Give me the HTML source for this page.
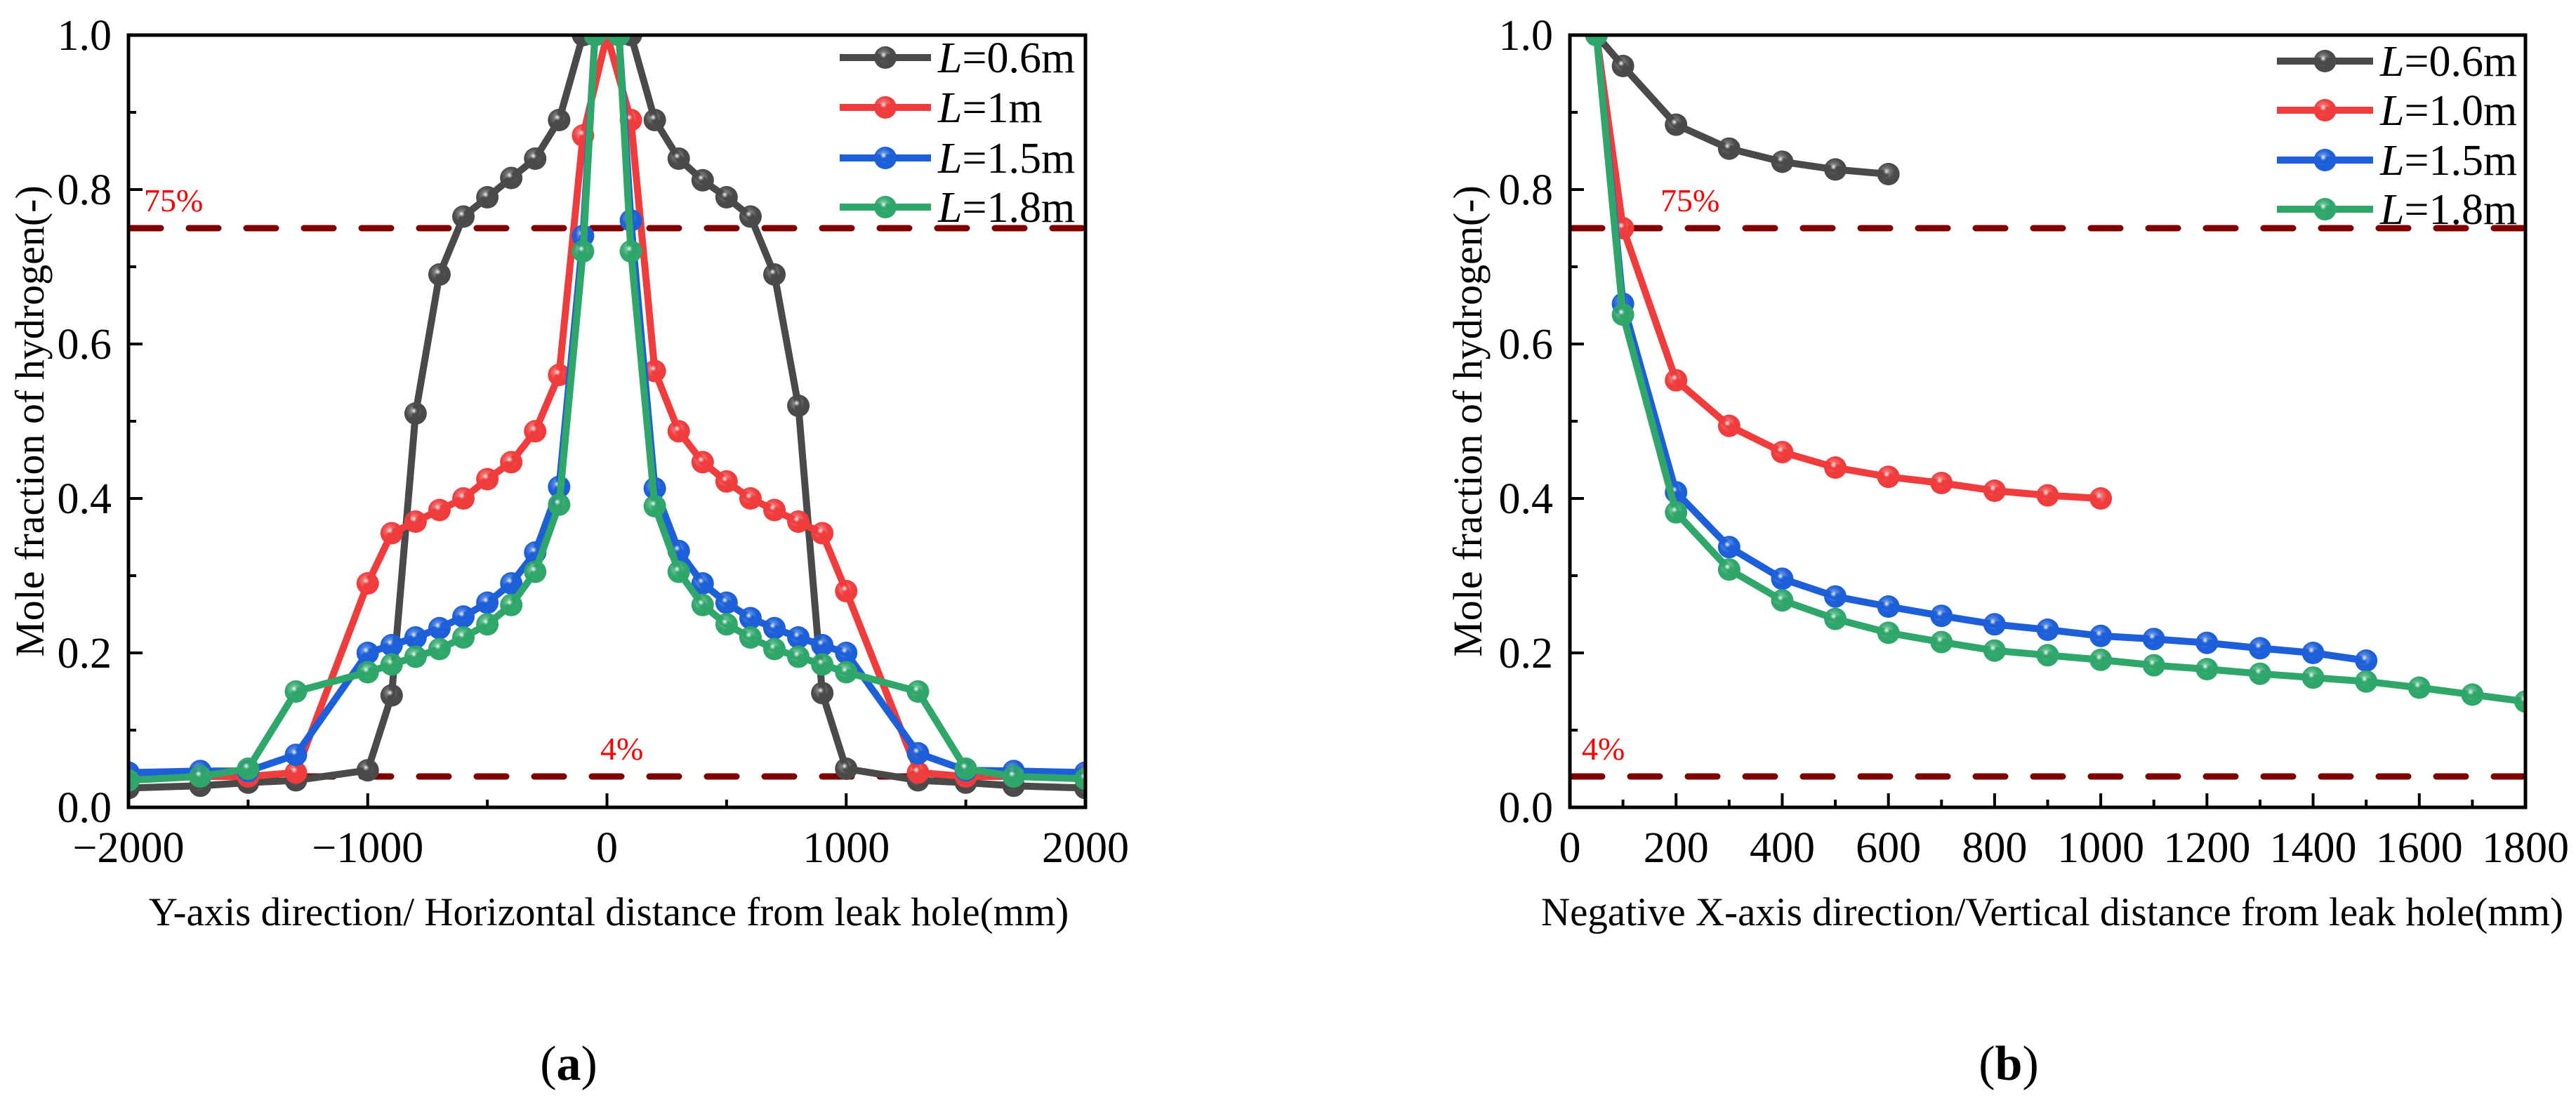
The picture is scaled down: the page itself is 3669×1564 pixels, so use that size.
<!DOCTYPE html>
<html><head><meta charset="utf-8"><style>
html,body{margin:0;padding:0;background:#fff}
svg{display:block;font-family:"Liberation Serif",serif}
</style></head><body>
<svg id="fig" width="3669" height="1564" viewBox="0 0 3669 1564" xmlns="http://www.w3.org/2000/svg">
<defs>
<clipPath id="clipA"><rect x="183" y="50" width="1363" height="1100"/></clipPath>
<clipPath id="clipB"><rect x="2236" y="50" width="1361" height="1100"/></clipPath>
</defs>
<g id="chartA"></g>
<g id="chartB"></g>
</svg>
<script>
// ---- Chart (a) data ----
const aXTicks = [-2000, -1000, 0, 1000, 2000];
const aXMinor = [-1500, -500, 500, 1500];
const yTicks = [0.0, 0.2, 0.4, 0.6, 0.8, 1.0];
const yMinor = [0.1, 0.3, 0.5, 0.7, 0.9];
const aBlackX = [-2000,-1700,-1500,-1300,-1000,-900,-800,-700,-600,-500,-400,-300,-200,-100,0,100,200,300,400,500,600,700,800,900,1000,1300,1500,1700,2000];
const aBlackY = [0.025,0.028,0.032,0.035,0.048,0.145,0.51,0.69,0.765,0.79,0.815,0.84,0.89,1.0,1.0,1.0,0.89,0.84,0.812,0.79,0.765,0.69,0.52,0.148,0.05,0.035,0.032,0.028,0.025];
const aRedX = [-2000,-1700,-1500,-1300,-1000,-900,-800,-700,-600,-500,-400,-300,-200,-100,0,100,200,300,400,500,600,700,800,900,1000,1300,1500,1700,2000];
const aRedY = [0.04,0.04,0.04,0.045,0.29,0.355,0.37,0.385,0.40,0.425,0.447,0.487,0.56,0.87,1.0,0.89,0.565,0.487,0.447,0.422,0.40,0.385,0.37,0.355,0.28,0.045,0.04,0.04,0.04];
const aBlueX = [-2000,-1700,-1500,-1300,-1000,-900,-800,-700,-600,-500,-400,-300,-200,-100,-50,50,100,200,300,400,500,600,700,800,900,1000,1300,1500,1700,2000];
const aBlueY = [0.045,0.047,0.047,0.068,0.2,0.21,0.22,0.232,0.247,0.265,0.29,0.33,0.415,0.74,1.0,1.0,0.76,0.413,0.332,0.29,0.265,0.245,0.232,0.22,0.21,0.2,0.07,0.048,0.047,0.045];
const aGreenX = [-2000,-1700,-1500,-1300,-1000,-900,-800,-700,-600,-500,-400,-300,-200,-100,-50,50,100,200,300,400,500,600,700,800,900,1000,1300,1500,1700,2000];
const aGreenY = [0.035,0.04,0.05,0.15,0.175,0.185,0.195,0.205,0.22,0.237,0.262,0.305,0.392,0.72,1.0,1.0,0.72,0.39,0.305,0.262,0.237,0.22,0.205,0.195,0.185,0.175,0.15,0.05,0.04,0.037];
const aLegend = ["=0.6m","=1m","=1.5m","=1.8m"];
// ---- Chart (b) data ----
const bXTicks = [0,200,400,600,800,1000,1200,1400,1600,1800];
const bXMinor = [100,300,500,700,900,1100,1300,1500,1700];
const bBlackX = [50,100,200,300,400,500,600];
const bBlackY = [1.0,0.96,0.884,0.853,0.836,0.826,0.82];
const bRedX = [50,100,200,300,400,500,600,700,800,900,1000];
const bRedY = [1.0,0.75,0.553,0.494,0.46,0.44,0.428,0.42,0.41,0.404,0.4];
const bBlueX = [50,100,200,300,400,500,600,700,800,900,1000,1100,1200,1300,1400,1500];
const bBlueY = [1.0,0.652,0.408,0.337,0.296,0.273,0.26,0.248,0.237,0.23,0.222,0.218,0.213,0.206,0.2,0.19];
const bGreenX = [50,100,200,300,400,500,600,700,800,900,1000,1100,1200,1300,1400,1500,1600,1700,1800];
const bGreenY = [1.0,0.638,0.382,0.308,0.268,0.244,0.226,0.214,0.203,0.197,0.191,0.184,0.179,0.173,0.168,0.163,0.155,0.146,0.137];
const bLegend = ["=0.6m","=1.0m","=1.5m","=1.8m"];
const thresholds = [0.75, 0.04];
const thresholdLabels = ["75%","4%"];

const NS="http://www.w3.org/2000/svg";
const colors=["#4a4a4a","#f03c3c","#1c5fd8","#2fa66a"];
const defs=document.querySelector('defs');
colors.forEach((c,i)=>{
  const g=document.createElementNS(NS,'radialGradient');
  g.setAttribute('id','grad'+i);g.setAttribute('cx','0.42');g.setAttribute('cy','0.38');g.setAttribute('r','0.6');
  g.innerHTML='<stop offset="0" stop-color="#ffffff"/><stop offset="0.25" stop-color="'+c+'" stop-opacity="0.75"/><stop offset="0.6" stop-color="'+c+'"/><stop offset="1" stop-color="'+c+'"/>';
  defs.appendChild(g);
});
function el(parent,tag,attrs,text){const e=document.createElementNS(NS,tag);for(const k in attrs)e.setAttribute(k,attrs[k]);if(text!==undefined)e.textContent=text;parent.appendChild(e);return e;}

function drawChart(root,cfg){
  const {L,R,T,B,xmin,xmax,clip}=cfg;
  const sx=v=>L+(v-xmin)/(xmax-xmin)*(R-L);
  const sy=v=>B-(v-0)/(1-0)*(B-T);
  thresholds.forEach((t,i)=>{
    const ln=el(root,'line',{x1:L+4,x2:R-4,y1:sy(t),y2:sy(t),stroke:'#800000','stroke-width':9,'stroke-dasharray':'42 40','stroke-linecap':'round'});
    
    
    const lb=el(root,'text',{x:cfg.thrLabelX[i],y:sy(t)-24,fill:'#ff0000','font-size':46},thresholdLabels[i]);
    
    
  });
  const cg=el(root,'g',{'clip-path':'url(#'+clip+')'});
  cfg.series.forEach((s,i)=>{
    const pts=s.x.map((v,j)=>sx(v)+','+sy(s.y[j])).join(' ');
    const pl=el(cg,'polyline',{points:pts,fill:'none',stroke:colors[i],'stroke-width':10,'stroke-linejoin':'round'});
    
    
    s.x.forEach((v,j)=>{
      const c=el(cg,'circle',{cx:sx(v),cy:sy(s.y[j]),r:16,fill:'url(#grad'+i+')'});
      
      
    });
  });
  const fr=el(root,'rect',{x:L,y:T,width:R-L,height:B-T,fill:'none',stroke:'#000','stroke-width':5});
  
  
  cfg.xTicks.forEach(v=>{
    el(root,'line',{x1:sx(v),x2:sx(v),y1:B,y2:B-20,stroke:'#000','stroke-width':4});
    const t=el(root,'text',{x:sx(v),y:B+78,'text-anchor':'middle','font-size':62},(v<0?'\u2212'+(-v):String(v)));
    
    
  });
  cfg.xMinor.forEach(v=>el(root,'line',{x1:sx(v),x2:sx(v),y1:B,y2:B-11,stroke:'#000','stroke-width':4}));
  yTicks.forEach(v=>{
    el(root,'line',{x1:L,x2:L+20,y1:sy(v),y2:sy(v),stroke:'#000','stroke-width':4});
    const t=el(root,'text',{x:L-24,y:sy(v)+21,'text-anchor':'end','font-size':62},v.toFixed(1));
    
    
  });
  yMinor.forEach(v=>el(root,'line',{x1:L,x2:L+11,y1:sy(v),y2:sy(v),stroke:'#000','stroke-width':4}));
  const yt=el(root,'text',{x:0,y:0,'text-anchor':'middle','font-size':58,transform:'translate('+(cfg.yTitleX)+','+((T+B)/2)+') rotate(-90)'},'Mole fraction of hydrogen(-)');
  
  
  const xt=el(root,'text',{x:cfg.xTitleX,y:1318,'text-anchor':'middle','font-size':57},cfg.xTitle);
  
  
  const pl=el(root,'text',{x:cfg.panelX,y:1538,'text-anchor':'middle','font-size':70},'');
  pl.innerHTML='(<tspan font-weight="bold">'+cfg.panel+'</tspan>)';
  
  
  const lg=el(root,'g',{});
  
  
  cfg.legend.forEach((txt,i)=>{
    const y=cfg.legY[i];
    el(lg,'line',{x1:cfg.legX1,x2:cfg.legX2,y1:y,y2:y,stroke:colors[i],'stroke-width':10});
    el(lg,'circle',{cx:(cfg.legX1+cfg.legX2)/2,cy:y,r:16,fill:'url(#grad'+i+')'});
    const t=el(lg,'text',{x:cfg.legX2+10,y:y+21,'font-size':62},'');
    t.innerHTML='<tspan font-style="italic">L</tspan>'+txt;
    
    
  });
}
drawChart(document.getElementById('chartA'),{L:183,R:1546,T:50,B:1150,xmin:-2000,xmax:2000,clip:'clipA',
  xTicks:aXTicks,xMinor:aXMinor,yTitleX:62,xTitleX:867,xTitle:'Y-axis direction/ Horizontal distance from leak hole(mm)',
  panel:'a',panelX:810,thrLabelX:[205,855],legend:aLegend,legX1:1196,legX2:1326,legY:[82,153,225,295],
  series:[{name:'l-0-6m',x:aBlackX,y:aBlackY},{name:'l-1m',x:aRedX,y:aRedY},{name:'l-1-5m',x:aBlueX,y:aBlueY},{name:'l-1-8m',x:aGreenX,y:aGreenY}]});
drawChart(document.getElementById('chartB'),{L:2236,R:3597,T:50,B:1150,xmin:0,xmax:1800,clip:'clipB',
  xTicks:bXTicks,xMinor:bXMinor,yTitleX:2110,xTitleX:2923,xTitle:'Negative X-axis direction/Vertical distance from leak hole(mm)',
  panel:'b',panelX:2861,thrLabelX:[2365,2253],legend:bLegend,legX1:3243,legX2:3380,legY:[87,157,228,298],
  series:[{name:'l-0-6m',x:bBlackX,y:bBlackY},{name:'l-1-0m',x:bRedX,y:bRedY},{name:'l-1-5m',x:bBlueX,y:bBlueY},{name:'l-1-8m',x:bGreenX,y:bGreenY}]});
</script>
</body></html>
